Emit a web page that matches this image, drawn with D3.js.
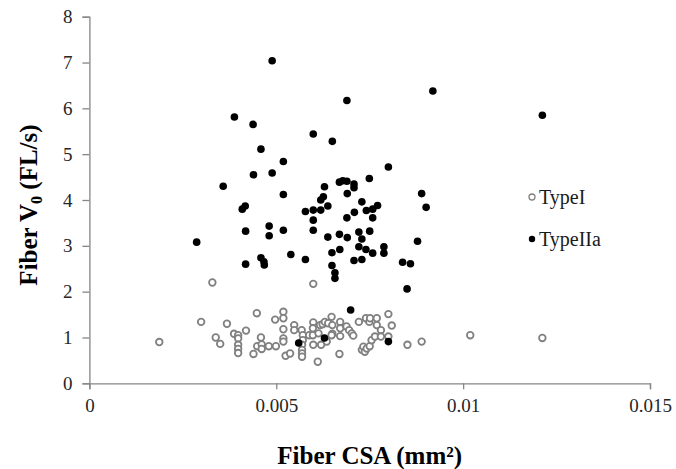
<!DOCTYPE html>
<html>
<head>
<meta charset="utf-8">
<script src="https://cdn.jsdelivr.net/npm/d3@7"></script>
<style>
  body { margin: 0; background: #fff; }
  svg { display: block; font-family: "Liberation Serif", "Times New Roman", serif; }
</style>
</head>
<body>
<div id="graph"></div>
<script>
// Fiber CSA (mm^2) vs unloaded shortening velocity V0
var typeI_csa = [0.00187, 0.00299, 0.00329, 0.00338, 0.00350, 0.00368, 0.00387, 0.00398, 0.00398, 0.00398,
    0.00398, 0.00398, 0.00419, 0.00439, 0.00448, 0.00449, 0.00459, 0.00461, 0.00461, 0.00480,
    0.00497, 0.00499, 0.00519, 0.00519, 0.00519, 0.00519, 0.00519, 0.00525, 0.00537, 0.00548,
    0.00548, 0.00568, 0.00571, 0.00571, 0.00569, 0.00569, 0.00569, 0.00569, 0.00588, 0.00599,
    0.00599, 0.00598, 0.00598, 0.00599, 0.00611, 0.00613, 0.00617, 0.00620, 0.00624, 0.00630,
    0.00635, 0.00639, 0.00648, 0.00650, 0.00648, 0.00650, 0.00669, 0.00671, 0.00671, 0.00671,
    0.00688, 0.00695, 0.00702, 0.00706, 0.00721, 0.00729, 0.00733, 0.00737, 0.00742, 0.00740,
    0.00749, 0.00751, 0.00750, 0.00755, 0.00764, 0.00769, 0.00769, 0.00780, 0.00780, 0.00800,
    0.00809, 0.00800, 0.00851, 0.00889, 0.01019, 0.01212];
var typeI_v0 = [0.90, 1.34, 2.20, 1.00, 0.86, 1.30, 1.08, 1.05, 0.98, 0.84,
    0.75, 0.66, 1.15, 0.64, 1.53, 0.81, 1.00, 0.85, 0.75, 0.81,
    1.39, 0.81, 1.56, 1.42, 1.18, 0.98, 0.91, 0.60, 0.65, 1.27,
    1.16, 1.16, 1.05, 0.94, 0.84, 0.73, 0.65, 0.58, 1.05, 2.17,
    1.33, 1.20, 1.05, 0.84, 0.47, 1.09, 1.27, 0.84, 1.29, 1.34,
    0.91, 1.31, 1.45, 1.08, 1.05, 1.27, 0.64, 1.34, 1.20, 1.03,
    1.24, 1.16, 1.09, 1.04, 1.34, 0.73, 0.80, 0.69, 0.76, 1.42,
    1.34, 1.42, 0.81, 0.94, 1.02, 1.42, 1.27, 1.16, 1.02, 1.51,
    1.26, 1.02, 0.84, 0.91, 1.05, 0.99];

var typeIIa_csa = [0.00287, 0.00358, 0.00388, 0.00409, 0.00417, 0.00418, 0.00418, 0.00438, 0.00439, 0.00459,
    0.00459, 0.00467, 0.00468, 0.00481, 0.00481, 0.00489, 0.00489, 0.00519, 0.00519, 0.00519,
    0.00539, 0.00578, 0.00578, 0.00599, 0.00599, 0.00599, 0.00599, 0.00619, 0.00619, 0.00626,
    0.00629, 0.00638, 0.00638, 0.00650, 0.00649, 0.00649, 0.00657, 0.00657, 0.00669, 0.00678,
    0.00689, 0.00669, 0.00670, 0.00689, 0.00690, 0.00689, 0.00690, 0.00708, 0.00708, 0.00709,
    0.00708, 0.00721, 0.00721, 0.00729, 0.00729, 0.00729, 0.00741, 0.00740, 0.00749, 0.00750,
    0.00758, 0.00758, 0.00758, 0.00771, 0.00788, 0.00788, 0.00800, 0.00838, 0.00850, 0.00859,
    0.00878, 0.00889, 0.00901, 0.00919, 0.01212, 0.00560, 0.00629, 0.00699, 0.00800];
var typeIIa_v0 = [3.08, 4.30, 5.81, 3.80, 3.87, 3.32, 2.60, 5.65, 4.55, 5.11,
    2.74, 2.65, 2.58, 3.43, 3.22, 7.04, 4.59, 4.84, 4.12, 3.34,
    2.81, 3.75, 2.70, 5.44, 3.78, 3.56, 3.34, 3.78, 4.00, 4.07,
    4.29, 3.87, 3.19, 5.28, 2.85, 2.57, 2.41, 2.29, 4.39, 4.42,
    4.41, 3.25, 2.92, 6.17, 4.14, 3.61, 3.18, 4.35, 4.27, 3.73,
    2.68, 3.30, 2.98, 3.96, 3.15, 2.70, 3.77, 2.92, 4.47, 3.32,
    3.80, 3.61, 2.84, 3.88, 2.98, 2.84, 4.72, 2.64, 2.06, 2.61,
    3.10, 4.14, 3.84, 6.38, 5.85, 0.88, 0.99, 1.60, 0.91];

var x_ticks = [0, 0.005, 0.01, 0.015];
var y_ticks = [0, 1, 2, 3, 4, 5, 6, 7, 8];
var series_names = ["TypeI", "TypeIIa"];

const WIDTH = 676, HEIGHT = 469;
const margin = {top: 16.7, right: 26, bottom: 85.7, left: 89.4};
const AXIS_GREY = "#868686";

var svg = d3.select("#graph")
    .append("svg")
    .attr("width", WIDTH)
    .attr("height", HEIGHT);

var x = d3.scaleLinear()
    .domain([0, 0.015])
    .range([margin.left, WIDTH - margin.right]);

var y = d3.scaleLinear()
    .domain([0, 8])
    .range([HEIGHT - margin.bottom, margin.top]);

// axes
var xAxis = svg.append("g")
    .attr("transform", `translate(0, ${y(0)})`)
    .call(d3.axisBottom(x).tickValues(x_ticks).tickFormat(d => String(d)).tickSize(6).tickPadding(9));

var yAxis = svg.append("g")
    .attr("transform", `translate(${x(0)}, 0)`)
    .call(d3.axisLeft(y).tickValues(y_ticks).tickFormat(d3.format("d")).tickSize(7).tickPadding(10));

[xAxis, yAxis].forEach(function(a) {
    a.select(".domain").attr("stroke", AXIS_GREY).attr("stroke-width", 1.3);
    a.selectAll(".tick line").attr("stroke", AXIS_GREY).attr("stroke-width", 1.3);
    a.selectAll(".tick text")
        .attr("fill", "#262626")
        .style("font-family", "Liberation Serif")
        .style("font-size", "19px");
});

// series
var dataI = typeI_csa.map((c, i) => [c, typeI_v0[i]]);
var dataIIa = typeIIa_csa.map((c, i) => [c, typeIIa_v0[i]]);

svg.append("g").selectAll("circle")
    .data(dataI)
    .enter()
    .append("circle")
    .attr("cx", d => x(d[0]))
    .attr("cy", d => y(d[1]))
    .attr("r", 3.3)
    .attr("fill", "#fff")
    .attr("stroke", "#808080")
    .attr("stroke-width", 1.8);

svg.append("g").selectAll("circle")
    .data(dataIIa)
    .enter()
    .append("circle")
    .attr("cx", d => x(d[0]))
    .attr("cy", d => y(d[1]))
    .attr("r", 3.8)
    .attr("fill", "#000");

// legend
var legend = svg.selectAll(".legend")
    .data(series_names)
    .enter()
    .append("g")
    .attr("class", "legend")
    .attr("transform", (d, i) => `translate(532, ${197 + i * 42})`);

legend.append("circle")
    .attr("r", (d, i) => i == 0 ? 3 : 3.2)
    .attr("fill", (d, i) => i == 0 ? "#fff" : "#000")
    .attr("stroke", (d, i) => i == 0 ? "#808080" : "none")
    .attr("stroke-width", 1.3);

legend.append("text")
    .attr("x", 7)
    .attr("dy", "0.35em")
    .style("font-size", "20px")
    .attr("fill", "#1a1a1a")
    .text(d => d);

// axis titles
svg.append("text")
    .attr("x", (x(0) + x(0.015)) / 2)
    .attr("y", 464)
    .style("text-anchor", "middle")
    .style("font-size", "25px")
    .style("font-weight", "bold")
    .text("Fiber CSA (mm\u00B2)");

var yTitle = svg.append("text")
    .attr("transform", "translate(37, 205) rotate(-90)")
    .style("text-anchor", "middle")
    .style("font-size", "25px")
    .style("font-weight", "bold");
yTitle.append("tspan").text("Fiber V");
yTitle.append("tspan").attr("dy", 5).style("font-size", "16px").text("0");
yTitle.append("tspan").attr("dy", -5).text(" (FL/s)");
</script>
</body>
</html>
